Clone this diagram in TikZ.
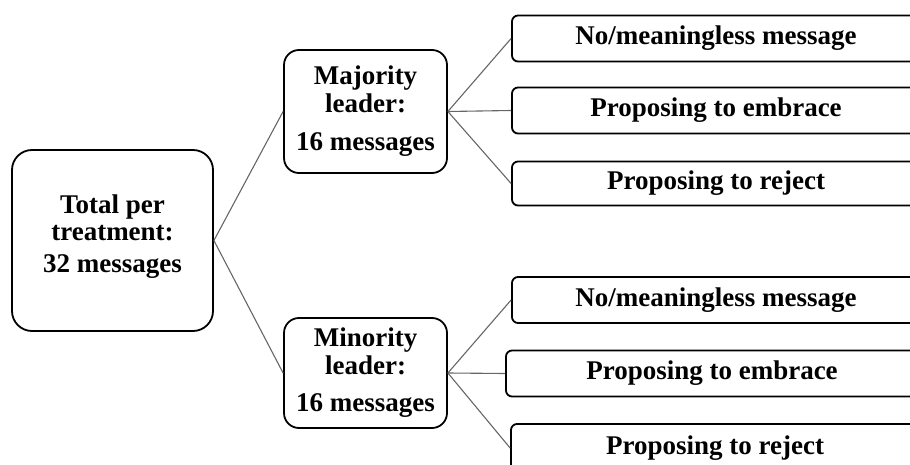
\documentclass[tikz,border=0pt]{standalone}
\usepackage{fontspec}
\setmainfont{Liberation Serif}
\begin{document}
\begin{tikzpicture}[x=1pt,y=-1pt,
  box/.style={draw=black,line width=1.8pt,fill=white,inner sep=0pt,align=center,
    font=\bfseries\fontsize{27}{28}\selectfont},
  rootbox/.style={box,rounded corners=20pt,minimum width=201pt,minimum height=181pt},
  midbox/.style={box,rounded corners=15pt,minimum width=163pt},
  leafbox/.style={box,rounded corners=6pt,minimum width=408pt,minimum height=46pt},
  caption/.style={inner sep=0pt,align=center,font=\bfseries\fontsize{27}{27}\selectfont},
  link/.style={draw=black!60,line width=1.1pt}]
\useasboundingbox (0,0) rectangle (910,465);
\clip (0,0) rectangle (910,465);

% first level: box, then its text set a little above centre
\node[rootbox] (root) at (112.5,240.5) {};
\node[caption] (rootText) at ([yshift=4pt]root.center) {Total per\\treatment:\\[5pt]32 messages};

% second level
\node[midbox,minimum height=123pt] (maj) at (365.5,111.5) {Majority\\leader:\\[10pt]16 messages};
\node[midbox,minimum height=110pt] (min) at (365.5,373) {Minority\\leader:\\[9pt]16 messages};

% third level, majority branch
\node[leafbox] (a1) at (716,38.5) {No/meaningless message};
\node[leafbox] (a2) at (716,110.5) {Proposing to embrace};
\node[leafbox,minimum height=44pt] (a3) at (716,183.5) {Proposing to reject};

% third level, minority branch
\node[leafbox] (b1) at (716,300) {No/meaningless message};
\node[leafbox,minimum width=412pt] (b2) at (712,373.5) {Proposing to embrace};
\node[leafbox,minimum height=48pt] (b3) at (715,448) {Proposing to reject};

% connectors
\draw[link] (root.east) -- (maj.west);
\draw[link] (root.east) -- (min.west);
\draw[link] (maj.east) -- (a1.west);
\draw[link] (maj.east) -- (a2.west);
\draw[link] (maj.east) -- (a3.west);
\draw[link] (min.east) -- (b1.west);
\draw[link] (min.east) -- (b2.west);
\draw[link] (min.east) -- (b3.west);
\end{tikzpicture}
\end{document}
